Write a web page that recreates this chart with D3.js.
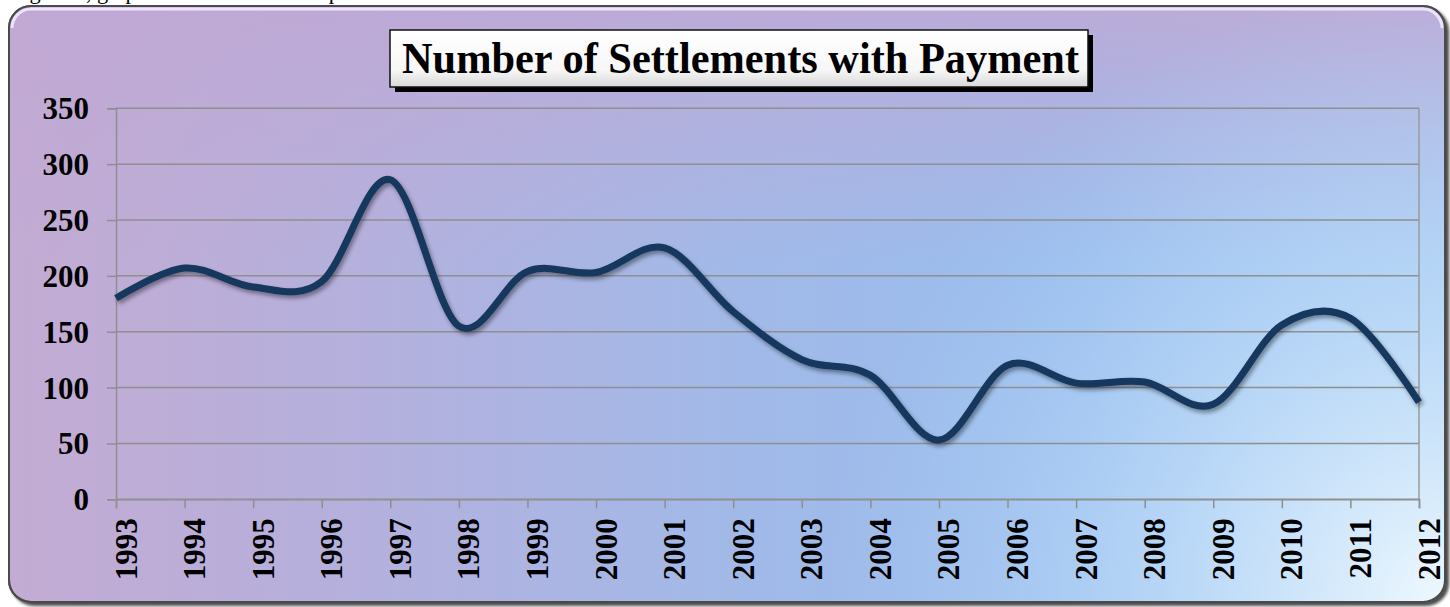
<!DOCTYPE html>
<html>
<head>
<meta charset="utf-8">
<script src="https://cdn.jsdelivr.net/npm/d3@7"></script>
<style>
html,body{margin:0;padding:0;background:#ffffff;overflow:hidden;}
svg{display:block;}
</style>
</head>
<body>
<svg id="chart" width="1450" height="607"></svg>
<script>
// ---- data ----
const years = ["1993","1994","1995","1996","1997","1998","1999","2000","2001","2002","2003","2004","2005","2006","2007","2008","2009","2010","2011","2012"];
const settlements = [180,207,190,195,286,155,204,203,225,168,125,111,53,120,104,105,85,156,162,87];
const yTicks = [0,50,100,150,200,250,300,350];
const chartTitle = "Number of Settlements with Payment";
const captionAbove = "Figure 4, graph of settlements with paid claims";

const svg = d3.select("#chart");
const defs = svg.append("defs");

// background gradients
const bg = defs.append("linearGradient").attr("id","bgH")
  .attr("gradientUnits","userSpaceOnUse").attr("x1",10).attr("y1",0).attr("x2",1446).attr("y2",0);
[[0,"#c3abd3"],[0.25,"#b4b0dd"],[0.5,"#a2b9e8"],[0.75,"#98bdee"],[1,"#a4c8f1"]]
  .forEach(s=>bg.append("stop").attr("offset",s[0]).attr("stop-color",s[1]));
const bgV = defs.append("linearGradient").attr("id","bgV")
  .attr("gradientUnits","userSpaceOnUse").attr("x1",0).attr("y1",6).attr("x2",0).attr("y2",260);
bgV.append("stop").attr("offset",0).attr("stop-color","#c0a8d4").attr("stop-opacity",0.85);
bgV.append("stop").attr("offset",1).attr("stop-color","#c0a8d4").attr("stop-opacity",0);
const bgR = defs.append("radialGradient").attr("id","bgR")
  .attr("gradientUnits","userSpaceOnUse").attr("cx",1446).attr("cy",603).attr("r",620);
bgR.append("stop").attr("offset",0).attr("stop-color","#eef9ff").attr("stop-opacity",1);
bgR.append("stop").attr("offset",0.45).attr("stop-color","#c4e0fa").attr("stop-opacity",0.7);
bgR.append("stop").attr("offset",1).attr("stop-color","#b0d0f5").attr("stop-opacity",0);

const titleGrad = defs.append("linearGradient").attr("id","titleG")
  .attr("x1",0).attr("y1",0).attr("x2",0).attr("y2",1);
titleGrad.append("stop").attr("offset",0).attr("stop-color","#ffffff");
titleGrad.append("stop").attr("offset",0.7).attr("stop-color","#f7f7f7");
titleGrad.append("stop").attr("offset",1).attr("stop-color","#d8d8d8");

const frameShadow = defs.append("filter").attr("id","frameShadow")
  .attr("x","-5%").attr("y","-5%").attr("width","110%").attr("height","110%");
frameShadow.append("feDropShadow").attr("dx",3).attr("dy",3).attr("stdDeviation",1.5)
  .attr("flood-color","#000").attr("flood-opacity",0.7);

const lineShadow = defs.append("filter").attr("id","lineShadow")
  .attr("x","-5%").attr("y","-20%").attr("width","110%").attr("height","140%");
lineShadow.append("feDropShadow").attr("dx",2).attr("dy",3).attr("stdDeviation",2.2)
  .attr("flood-color","#000").attr("flood-opacity",0.4);

// caption line of the surrounding document (only its lower part is visible, as in the source)
svg.append("text").attr("x",11).attr("y",-1)
  .attr("font-family","'Liberation Serif','Times New Roman',serif").attr("font-size",24)
  .attr("textLength",420).attr("lengthAdjust","spacingAndGlyphs")
  .attr("fill","#000").text(captionAbove);

// frame
const fx=9, fy=6, fw=1436, fh=596, fr=22;
svg.append("rect").attr("x",fx).attr("y",fy).attr("width",fw).attr("height",fh)
  .attr("rx",fr).attr("ry",fr).attr("fill","url(#bgH)").attr("stroke","#555").attr("stroke-width",2)
  .attr("filter","url(#frameShadow)");
svg.append("rect").attr("x",fx).attr("y",fy).attr("width",fw).attr("height",fh)
  .attr("rx",fr).attr("ry",fr).attr("fill","url(#bgV)");
svg.append("rect").attr("x",fx).attr("y",fy).attr("width",fw).attr("height",fh)
  .attr("rx",fr).attr("ry",fr).attr("fill","url(#bgR)");
// bevel highlight
svg.append("path")
  .attr("d",`M${fx+3},${fy+fr} A${fr-3},${fr-3} 0 0 1 ${fx+fr},${fy+3} L${fx+fw-fr},${fy+3} A${fr-3},${fr-3} 0 0 1 ${fx+fw-3},${fy+fr}`)
  .attr("fill","none").attr("stroke","#f4e8ff").attr("stroke-width",3).attr("opacity",0.9);
svg.append("rect").attr("x",fx).attr("y",fy).attr("width",fw).attr("height",fh)
  .attr("rx",fr).attr("ry",fr).attr("fill","none").attr("stroke","#4a4a4a").attr("stroke-width",2);

// scales
const x = d3.scalePoint().domain(years).range([116,1419]);
const y = d3.scaleLinear().domain([0,350]).range([499.3,108.3]);

// gridlines
svg.append("g").selectAll("line").data(yTicks).join("line")
  .attr("x1",116).attr("x2",1419).attr("y1",d=>y(d)).attr("y2",d=>y(d))
  .attr("stroke","#8f8f8f").attr("stroke-width",1.5);
// plot border right
svg.append("line").attr("x1",1419).attr("x2",1419).attr("y1",y(350)).attr("y2",y(0))
  .attr("stroke","#9a9a9a").attr("stroke-width",1.5);

// axes
const yAxis = svg.append("g").attr("transform","translate(116,0)")
  .call(d3.axisLeft(y).tickValues(yTicks).tickSize(9).tickPadding(18));
const xAxis = svg.append("g").attr("transform",`translate(0,${y(0)})`)
  .call(d3.axisBottom(x).tickSize(9).tickPadding(0));
[yAxis,xAxis].forEach(g=>{
  g.select(".domain").attr("stroke","#8f8f8f").attr("stroke-width",1.5);
  g.selectAll(".tick line").attr("stroke","#8f8f8f").attr("stroke-width",1.5);
});
yAxis.selectAll("text").attr("font-family","'Liberation Serif','Times New Roman',serif")
  .attr("font-weight","bold").attr("font-size",31).attr("fill","#000").attr("dy","0.34em");
xAxis.selectAll("text").attr("font-family","'Liberation Serif','Times New Roman',serif")
  .attr("font-weight","bold").attr("font-size",31).attr("fill","#000")
  .attr("text-anchor","end").attr("dy",0)
  .attr("transform","translate(11,19) rotate(-90)");

// line
const line = d3.line().x((d,i)=>x(years[i])).y(d=>y(d)).curve(d3.curveCardinal.tension(0));
svg.append("path").datum(settlements).attr("d",line)
  .attr("fill","none").attr("stroke","#17375e").attr("stroke-width",7)
  .attr("stroke-linejoin","round").attr("filter","url(#lineShadow)");

// title box
const tb = {x:390,y:30,w:698,h:57};
svg.append("rect").attr("x",tb.x+5).attr("y",tb.y+5).attr("width",tb.w).attr("height",tb.h).attr("fill","#000");
svg.append("rect").attr("x",tb.x).attr("y",tb.y).attr("width",tb.w).attr("height",tb.h)
  .attr("fill","url(#titleG)").attr("stroke","#111").attr("stroke-width",1.5);
svg.append("text").attr("x",402).attr("y",73)
  .attr("font-family","'Liberation Serif','Times New Roman',serif").attr("font-weight","bold")
  .attr("font-size",45).attr("textLength",677).attr("lengthAdjust","spacingAndGlyphs")
  .attr("fill","#000").text(chartTitle);
</script>
</body>
</html>
